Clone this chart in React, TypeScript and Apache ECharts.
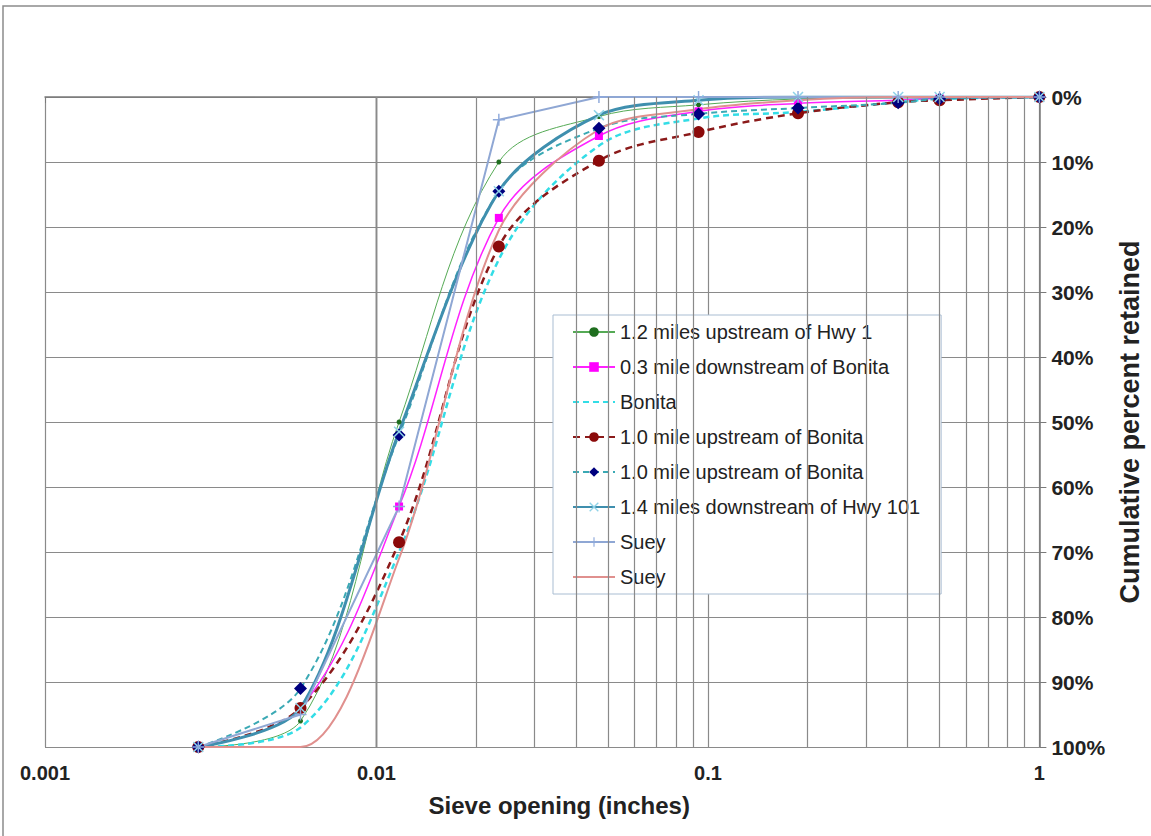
import React, { useEffect, useRef } from "react";
import * as echarts from "echarts";

// Sieve openings (inches)
const sieveOpenings = [0.0029, 0.0059, 0.0117, 0.0234, 0.0469, 0.0937, 0.187, 0.375, 0.5, 1.0];

// Cumulative percent retained for each site
const hwy1Upstream12 = [100, 96, 50, 10, 3, 1.2, 0.3, 0.1, 0, 0];
const bonitaDownstream03 = [100, 94, 63, 18.6, 6, 2.2, 1, 0.5, 0.2, 0];
const bonita = [100, 97, 70, 25, 7.5, 3.3, 2.3, 0.8, 0.3, 0];
const bonitaUpstream10a = [100, 94, 68.5, 23, 9.8, 5.4, 2.5, 0.8, 0.5, 0];
const bonitaUpstream10b = [100, 91, 52, 14.5, 4.8, 2.6, 1.7, 0.9, 0.3, 0];
const hwy101Downstream14 = [100, 94, 51.5, 14.5, 2.8, 0.5, 0, 0, 0, 0];
const sueyA = [100, 95, 63, 3.5, 0, 0, 0, 0, 0, 0];
const sueyB = [100, 100, 71, 20.5, 5, 1.9, 0.5, 0, 0, 0];

const seriesNames = [
  "1.2 miles upstream of Hwy 1",
  "0.3 mile downstream of Bonita",
  "Bonita",
  "1.0 mile upstream of Bonita",
  "1.0 mile upstream of Bonita ",
  "1.4 miles downstream of Hwy 101",
  "Suey",
  "Suey ",
];

const xTickLabels = ["0.001", "0.01", "0.1", "1"];
const decades = [0.001, 0.01, 0.1];
const minorMultipliers = [2, 3, 4, 5, 6, 7, 8, 9];

const X_SYMBOL = "path://M0,1L1,0L5,4L9,0L10,1L6,5L10,9L9,10L5,6L1,10L0,9L4,5Z";
const PLUS_SYMBOL = "path://M4.4,0H5.6V4.4H10V5.6H5.6V10H4.4V5.6H0V4.4H4.4Z";
const HIDDEN = "rgba(0,0,0,0)";

const pairs = (ys: number[]) => sieveOpenings.map((x, i) => [x, ys[i]]);

export default function App() {
  const ref = useRef<HTMLDivElement>(null);

  useEffect(() => {
    if (!ref.current) return;
    const chart = echarts.init(ref.current, null, { renderer: "svg" });
    const font = "Arial, 'Liberation Sans', sans-serif";
    const gridColor = "#8a8a8a";

    const minorTicks: number[] = [];
    decades.forEach((d) => minorMultipliers.forEach((m) => minorTicks.push(+(m * d).toPrecision(6))));

    const option: any = {
      animation: false,
      backgroundColor: "#ffffff",
      textStyle: { fontFamily: font },
      grid: { left: 45, right: 111, top: 97, bottom: 89, containLabel: false },
      graphic: [
        {
          type: "rect",
          shape: { x: 3, y: 6, width: 1170, height: 850 },
          style: { fill: "none", stroke: "#8c8c8c", lineWidth: 1.5 },
          silent: true,
          z: -1,
        },
      ],
      legend: {
        data: seriesNames,
        orient: "vertical",
        left: 553,
        top: 315,
        itemWidth: 42,
        itemHeight: 12,
        itemGap: 15,
        padding: [7, 21, 7, 19],
        backgroundColor: "#ffffff",
        borderColor: "#a9bdd2",
        borderWidth: 1,
        borderRadius: 0,
        formatter: (name: string) => name.trim(),
        textStyle: { fontSize: 20, color: "#222222", fontFamily: font },
      },
      xAxis: {
        type: "log",
        logBase: 10,
        min: 0.001,
        max: 1,
        name: "Sieve opening (inches)",
        nameLocation: "middle",
        nameGap: 46,
        nameTextStyle: { fontSize: 24, fontWeight: "bold", color: "#222", padding: [0, 0, 0, 34] },
        axisLine: { show: true, lineStyle: { color: "#7a7a7a", width: 1.5 } },
        axisTick: { show: true, length: 6, lineStyle: { color: "#7a7a7a" } },
        axisLabel: {
          fontSize: 20,
          fontWeight: "bold",
          color: "#222",
          margin: 16,
          formatter: (v: number) => {
            const lab = xTickLabels.find((l) => Math.abs(parseFloat(l) - v) / v < 1e-6);
            return lab ?? "";
          },
        },
        splitLine: { show: true, lineStyle: { color: gridColor, width: 1.2 } },
      },
      yAxis: {
        type: "value",
        position: "right",
        inverse: true,
        min: 0,
        max: 100,
        interval: 10,
        name: "Cumulative percent retained",
        nameLocation: "middle",
        nameRotate: 90,
        nameGap: 74,
        nameTextStyle: { fontSize: 27, color: "#222", fontWeight: "bold" },
        axisLine: { show: true, lineStyle: { color: "#7a7a7a", width: 1.5 } },
        axisTick: { show: true, length: 7, lineStyle: { color: "#7a7a7a" } },
        axisLabel: { formatter: "{value}%", fontSize: 21, fontWeight: "bold", color: "#222", margin: 12 },
        splitLine: { show: true, lineStyle: { color: gridColor, width: 1.2 } },
      },
      series: [
        {
          type: "line",
          name: "__minor",
          data: [],
          silent: true,
          markLine: {
            silent: true,
            symbol: ["none", "none"],
            label: { show: false },
            lineStyle: { color: gridColor, width: 1.2, type: "solid" },
            data: minorTicks.map((v) => ({ xAxis: v })),
          },
        },
        {
          type: "line",
          name: seriesNames[0],
          data: pairs(hwy1Upstream12),
          smooth: 0.35,
          symbol: "circle",
          symbolSize: 5,
          itemStyle: { color: "#1f6e1f" },
          lineStyle: { color: "#55aa55", width: 1 },
        },
        {
          type: "line",
          name: seriesNames[1],
          data: pairs(bonitaDownstream03),
          smooth: 0.35,
          symbol: "rect",
          symbolSize: 8,
          itemStyle: { color: "#ff00ff" },
          lineStyle: { color: "#ff22ff", width: 1.5 },
        },
        {
          type: "line",
          name: seriesNames[2],
          data: pairs(bonita),
          smooth: 0.35,
          showSymbol: false,
          symbol: "none",
          itemStyle: { color: HIDDEN },
          lineStyle: { color: "#33dde6", width: 2.5, type: [6, 4] },
        },
        {
          type: "line",
          name: seriesNames[3],
          data: pairs(bonitaUpstream10a),
          smooth: 0.35,
          symbol: "circle",
          symbolSize: 12,
          itemStyle: { color: "#8b0a0a" },
          lineStyle: { color: "#8b1a1a", width: 2.5, type: [7, 5] },
        },
        {
          type: "line",
          name: seriesNames[4],
          data: pairs(bonitaUpstream10b),
          smooth: 0.35,
          symbol: "diamond",
          symbolSize: 13,
          itemStyle: { color: "#00007f" },
          lineStyle: { color: "#3aa9b4", width: 2, type: [6, 4] },
        },
        {
          type: "line",
          name: seriesNames[5],
          data: pairs(hwy101Downstream14),
          smooth: 0.3,
          symbol: X_SYMBOL,
          symbolSize: 11,
          itemStyle: { color: "#8fd3e8" },
          lineStyle: { color: "#3f8fae", width: 3 },
        },
        {
          type: "line",
          name: seriesNames[6],
          data: pairs(sueyA),
          smooth: false,
          symbol: PLUS_SYMBOL,
          symbolSize: 12,
          itemStyle: { color: "#8ea9db" },
          lineStyle: { color: "#8fa7d4", width: 2 },
        },
        {
          type: "line",
          name: seriesNames[7],
          data: pairs(sueyB),
          smooth: 0.3,
          symbol: "none",
          showSymbol: false,
          itemStyle: { color: HIDDEN },
          lineStyle: { color: "#e0908e", width: 2 },
        },
      ],
    };

    chart.setOption(option);
    return () => chart.dispose();
  }, []);

  return (
    <div
      ref={ref}
      style={{ position: "absolute", left: 0, top: 0, width: 1151, height: 836, background: "#fff" }}
    />
  );
}
